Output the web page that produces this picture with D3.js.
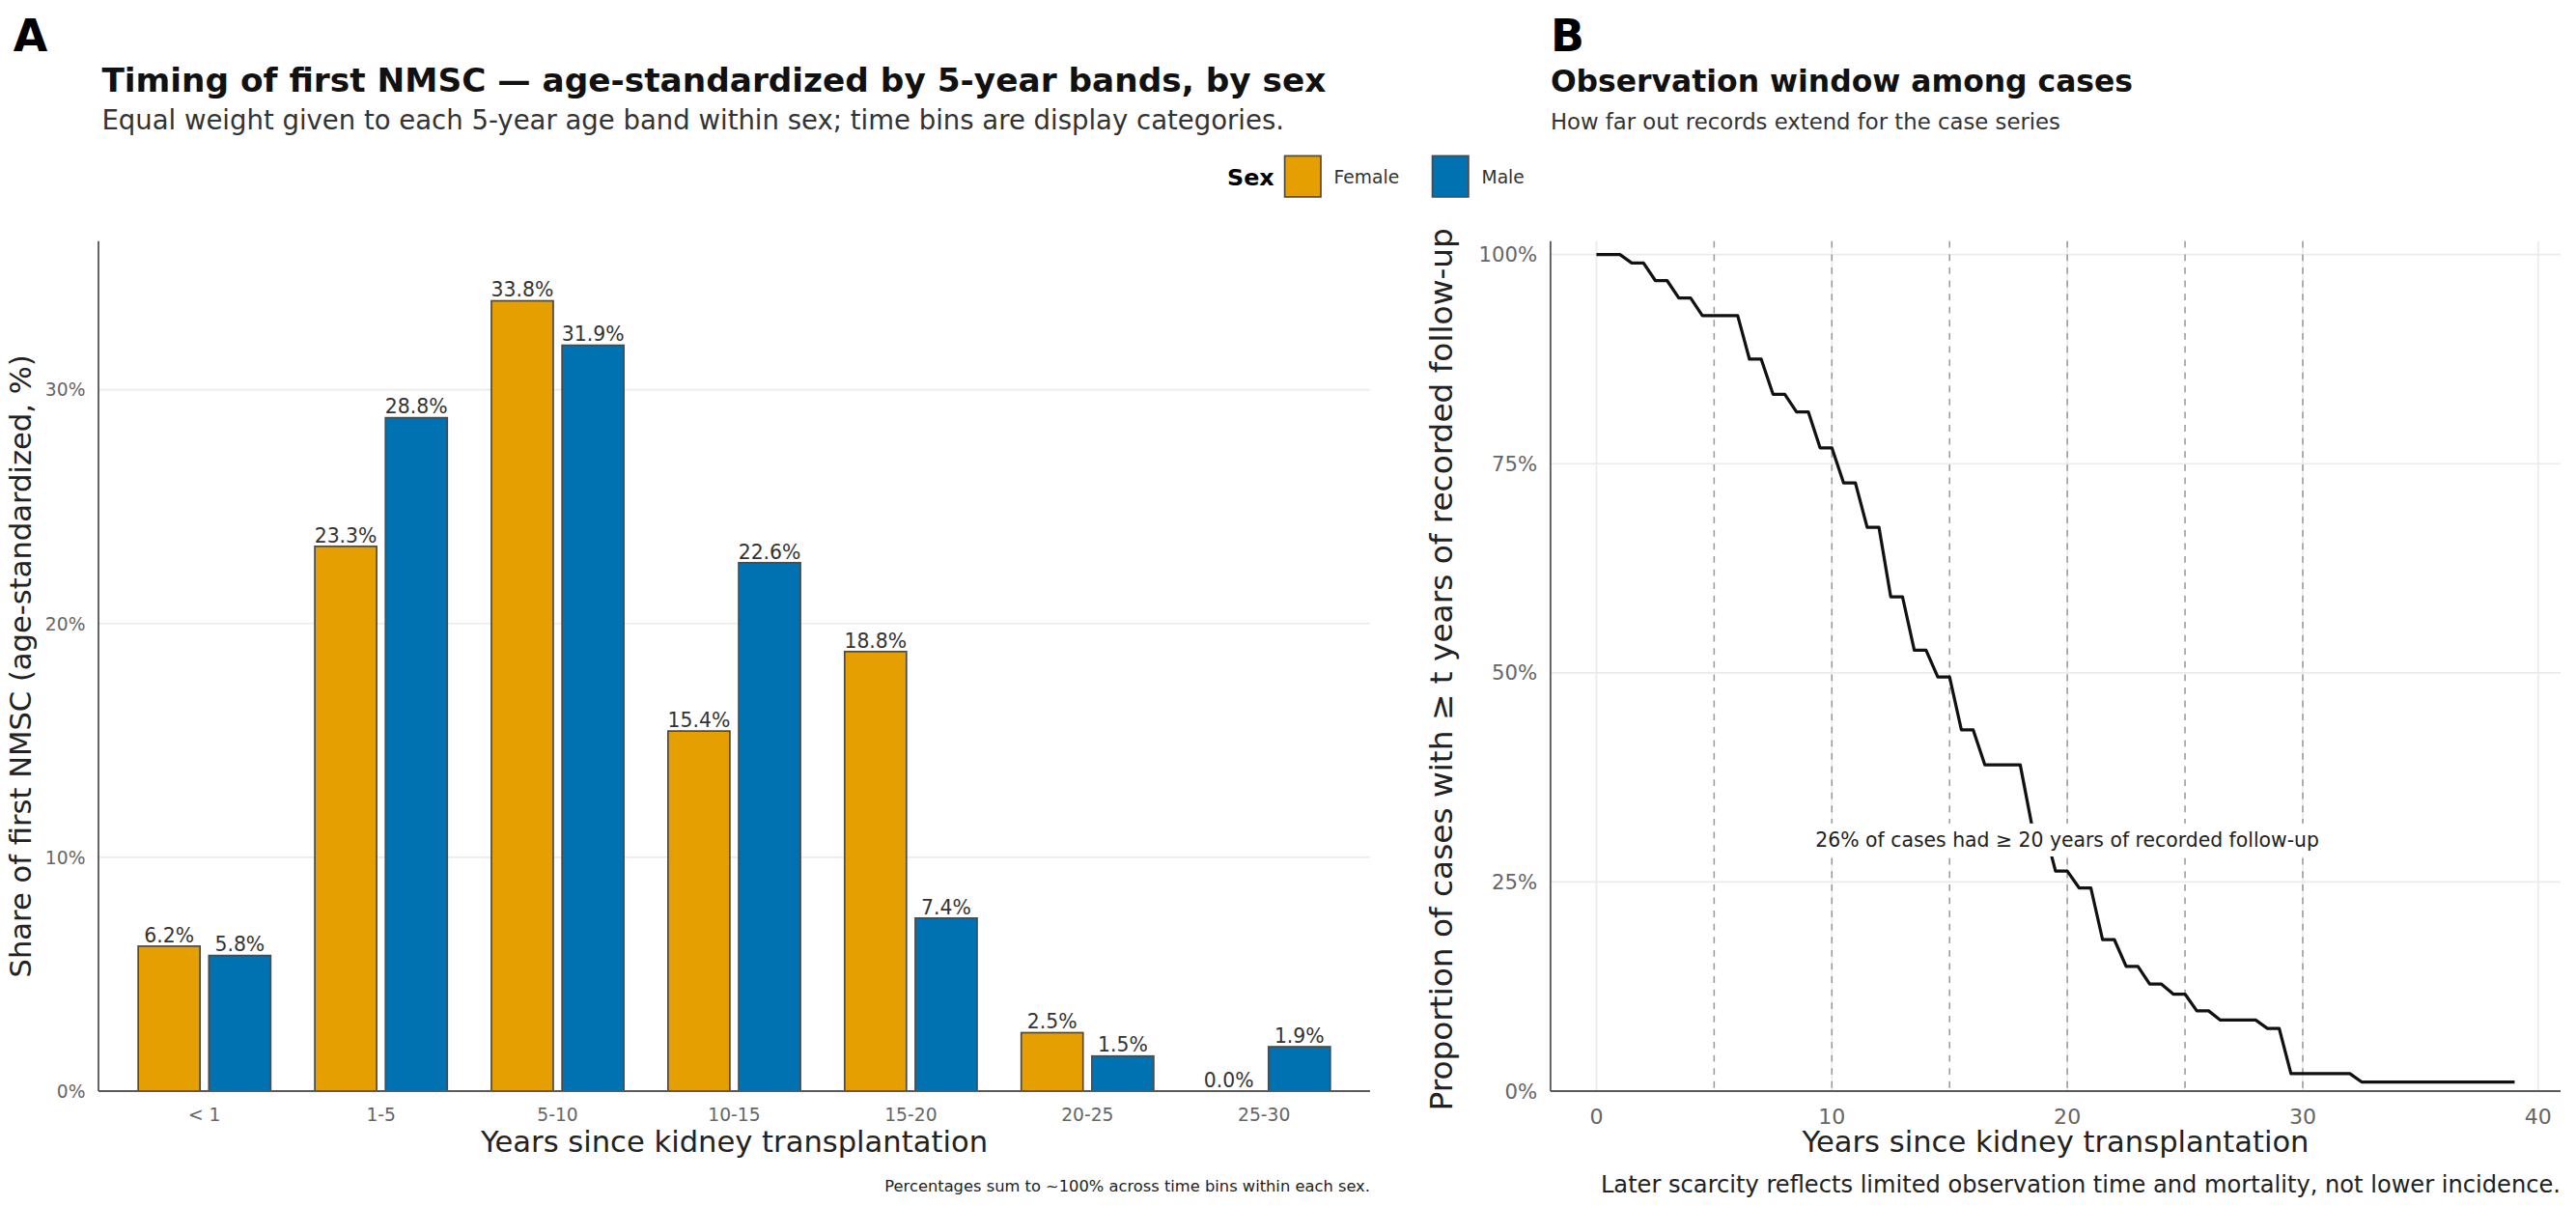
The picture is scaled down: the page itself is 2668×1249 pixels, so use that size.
<!DOCTYPE html>
<html><head><meta charset="utf-8">
<script src="https://cdn.jsdelivr.net/npm/d3@7"></script>
<style>
body{margin:0;background:#fff;}
svg{display:block;}
text{font-family:"DejaVu Sans",sans-serif;}
</style>
</head><body><svg id="c"></svg>
<script>
// ---------- data ----------
const categories = ["< 1","1-5","5-10","10-15","15-20","20-25","25-30"];
const sexes = ["Female","Male"];
const femaleShare = [6.2,23.3,33.8,15.4,18.8,2.5,0.0];
const maleShare   = [5.8,28.8,31.9,22.6,7.4,1.5,1.9];
const shareTicks = [0,10,20,30];

const followYears = [0,0.5,1,1.5,2,2.5,3,3.5,4,4.5,5,5.5,6,6.5,7,7.5,8,8.5,9,9.5,10,10.5,11,11.5,12,12.5,13,13.5,14,14.5,15,15.5,16,16.5,17,17.5,18,18.5,19,19.5,20,20.5,21,21.5,22,22.5,23,23.5,24,24.5,25,25.5,26,26.5,27,27.5,28,28.5,29,29.5,30,30.5,31,31.5,32,32.5,33,33.5,34,34.5,35,35.5,36,36.5,37,37.5,38,38.5,39];
const followProp  = [1,1,1,0.990,0.990,0.969,0.969,0.948,0.948,0.927,0.927,0.927,0.927,0.875,0.875,0.833,0.833,0.812,0.812,0.769,0.769,0.727,0.727,0.674,0.674,0.591,0.591,0.527,0.527,0.495,0.495,0.432,0.432,0.390,0.390,0.390,0.390,0.317,0.317,0.263,0.263,0.243,0.243,0.181,0.181,0.149,0.149,0.128,0.128,0.116,0.116,0.096,0.096,0.085,0.085,0.085,0.085,0.075,0.075,0.021,0.021,0.021,0.021,0.021,0.021,0.011,0.011,0.011,0.011,0.011,0.011,0.011,0.011,0.011,0.011,0.011,0.011,0.011,0.011];
const followTicksX = [0,10,20,30,40];
const followTicksY = [0,0.25,0.5,0.75,1];
const milestoneYears = [5,10,15,20,25,30];

// ---------- setup ----------
const W = 1570, H = 735;
const svg = d3.select("#c").attr("width",2668).attr("height",1249)
  .attr("viewBox",`0 0 ${W} ${H}`);
svg.append("rect").attr("width",W).attr("height",H).attr("fill","#fff");
const colors = {Female:"#E69F00", Male:"#0072B2"};
const gridCol = "#ebebeb", axisCol = "#5a5a5a", tickCol = "#666";

// ================= Panel A =================
const A = {l:60, r:835, t:147, b:665};
const xA = d3.scaleBand().domain(categories).range([A.l,A.r]).paddingInner(0).paddingOuter(0.1);
const step = xA.step();
const xSex = d3.scaleBand().domain(sexes).range([-0.4*step,0.4*step]);
const barW = 0.35*step;
const yA = d3.scaleLinear().domain([0,36.35]).range([A.b,A.t]);

const gA = svg.append("g");
gA.selectAll("line.grid").data(shareTicks).join("line")
  .attr("x1",A.l).attr("x2",A.r).attr("y1",d=>yA(d)).attr("y2",d=>yA(d))
  .attr("stroke",gridCol).attr("stroke-width",1);

const barsData = [];
categories.forEach((c,i)=>{
  barsData.push({cat:c,sex:"Female",v:femaleShare[i]});
  barsData.push({cat:c,sex:"Male",v:maleShare[i]});
});
const bx = d => xA(d.cat)+step/2 + xSex(d.sex) + (xSex.bandwidth()-barW)/2;
gA.selectAll("rect.bar").data(barsData).join("rect")
  .attr("x",bx).attr("width",barW)
  .attr("y",d=>yA(d.v)).attr("height",d=>yA(0)-yA(d.v))
  .attr("fill",d=>colors[d.sex]).attr("stroke","#4a4a4a").attr("stroke-width",1);
gA.selectAll("text.bl").data(barsData).join("text")
  .attr("x",d=>bx(d)+barW/2).attr("y",d=>yA(d.v)-2.5)
  .attr("text-anchor","middle").attr("font-size",12).attr("fill","#333")
  .text(d=>d.v.toFixed(1)+"%");

// axes lines
gA.append("line").attr("x1",A.l).attr("x2",A.l).attr("y1",A.t).attr("y2",A.b).attr("stroke",axisCol).attr("stroke-width",1.1);
gA.append("line").attr("x1",A.l).attr("x2",A.r).attr("y1",A.b).attr("y2",A.b).attr("stroke",axisCol).attr("stroke-width",1.1);
// tick labels
gA.selectAll("text.yt").data(shareTicks).join("text")
  .attr("x",A.l-8).attr("y",d=>yA(d)+4).attr("text-anchor","end")
  .attr("font-size",11).attr("fill",tickCol).text(d=>d+"%");
gA.selectAll("text.xt").data(categories).join("text")
  .attr("x",d=>xA(d)+step/2).attr("y",A.b+18).attr("text-anchor","middle")
  .attr("font-size",11).attr("fill",tickCol).text(d=>d);
// titles
svg.append("text").attr("x",8).attr("y",31).attr("font-size",27).attr("font-weight","bold").text("A");
svg.append("text").attr("x",62).attr("y",56).attr("font-size",20.2).attr("font-weight","bold").attr("fill","#111")
  .text("Timing of first NMSC — age-standardized by 5-year bands, by sex");
svg.append("text").attr("x",62).attr("y",79).attr("font-size",16.2).attr("fill","#333")
  .text("Equal weight given to each 5-year age band within sex; time bins are display categories.");
svg.append("text").attr("transform",`translate(19,${(A.t+A.b)/2}) rotate(-90)`)
  .attr("text-anchor","middle").attr("font-size",18).attr("fill","#222")
  .text("Share of first NMSC (age-standardized, %)");
svg.append("text").attr("x",(A.l+A.r)/2).attr("y",702).attr("text-anchor","middle")
  .attr("font-size",18).attr("fill","#222").text("Years since kidney transplantation");
svg.append("text").attr("x",A.r).attr("y",726).attr("text-anchor","end")
  .attr("font-size",9.6).attr("fill","#222")
  .text("Percentages sum to ~100% across time bins within each sex.");
// legend
const lg = svg.append("g");
lg.append("text").attr("x",748).attr("y",113).attr("font-size",14).attr("font-weight","bold").text("Sex");
const legX = {Female:783, Male:873};
sexes.forEach(s=>{
  lg.append("rect").attr("x",legX[s]).attr("y",95).attr("width",22).attr("height",25)
    .attr("fill",colors[s]).attr("stroke","#4a4a4a").attr("stroke-width",1);
  lg.append("text").attr("x",legX[s]+30).attr("y",112).attr("font-size",11).attr("fill","#333").text(s);
});

// ================= Panel B =================
const B = {l:945, r:1560.6, t:147, b:665};
const xB = d3.scaleLinear().domain([-1.95,40.95]).range([B.l,B.r]);
const yB = d3.scaleLinear().domain([0,1.016]).range([B.b,B.t]);
const gB = svg.append("g");
gB.selectAll("line.gy").data(followTicksY).join("line")
  .attr("x1",B.l).attr("x2",B.r).attr("y1",d=>yB(d)).attr("y2",d=>yB(d))
  .attr("stroke",gridCol).attr("stroke-width",1);
gB.selectAll("line.gx").data(followTicksX).join("line")
  .attr("x1",d=>xB(d)).attr("x2",d=>xB(d)).attr("y1",B.t).attr("y2",B.b)
  .attr("stroke",gridCol).attr("stroke-width",1);
gB.selectAll("line.ms").data(milestoneYears).join("line")
  .attr("x1",d=>xB(d)).attr("x2",d=>xB(d)).attr("y1",B.t).attr("y2",B.b)
  .attr("stroke","#9a9a9a").attr("stroke-width",0.9).attr("stroke-dasharray","4,4");
const pts = followYears.map((t,i)=>[t,followProp[i]]);
gB.append("path").datum(pts)
  .attr("d",d3.line().x(d=>xB(d[0])).y(d=>yB(d[1])))
  .attr("fill","none").attr("stroke","#111").attr("stroke-width",1.9).attr("stroke-linejoin","round");
// annotation with white label
const ann = gB.append("g");
const annTxt = ann.append("text").attr("x",xB(20)).attr("y",yB(0.30)+4)
  .attr("text-anchor","middle").attr("font-size",12).attr("fill","#222")
  .text("26% of cases had ≥ 20 years of recorded follow-up");
const bb = annTxt.node().getBBox();
ann.insert("rect","text").attr("x",bb.x-3).attr("y",bb.y-3).attr("width",bb.width+6).attr("height",bb.height+6)
  .attr("fill","#fff");
// axes
gB.append("line").attr("x1",B.l).attr("x2",B.l).attr("y1",B.t).attr("y2",B.b).attr("stroke",axisCol).attr("stroke-width",1.1);
gB.append("line").attr("x1",B.l).attr("x2",B.r).attr("y1",B.b).attr("y2",B.b).attr("stroke",axisCol).attr("stroke-width",1.1);
gB.selectAll("text.yt").data(followTicksY).join("text")
  .attr("x",B.l-8).attr("y",d=>yB(d)+4.5).attr("text-anchor","end")
  .attr("font-size",12.5).attr("fill",tickCol).text(d=>d3.format(".0%")(d));
gB.selectAll("text.xt").data(followTicksX).join("text")
  .attr("x",d=>xB(d)).attr("y",B.b+20).attr("text-anchor","middle")
  .attr("font-size",13).attr("fill",tickCol).text(d=>d);
svg.append("text").attr("x",945).attr("y",31).attr("font-size",27).attr("font-weight","bold").text("B");
svg.append("text").attr("x",945).attr("y",56).attr("font-size",18.5).attr("font-weight","bold").attr("fill","#111")
  .text("Observation window among cases");
svg.append("text").attr("x",945).attr("y",79).attr("font-size",13.4).attr("fill","#333")
  .text("How far out records extend for the case series");
svg.append("text").attr("transform",`translate(885,${(B.t+B.b)/2+2}) rotate(-90)`)
  .attr("text-anchor","middle").attr("font-size",19.3).attr("fill","#222")
  .text("Proportion of cases with ≥ t years of recorded follow-up");
svg.append("text").attr("x",(B.l+B.r)/2).attr("y",702).attr("text-anchor","middle")
  .attr("font-size",18).attr("fill","#222").text("Years since kidney transplantation");
svg.append("text").attr("x",B.r).attr("y",727).attr("text-anchor","end")
  .attr("font-size",14.2).attr("fill","#222")
  .text("Later scarcity reflects limited observation time and mortality, not lower incidence.");
</script></body></html>
